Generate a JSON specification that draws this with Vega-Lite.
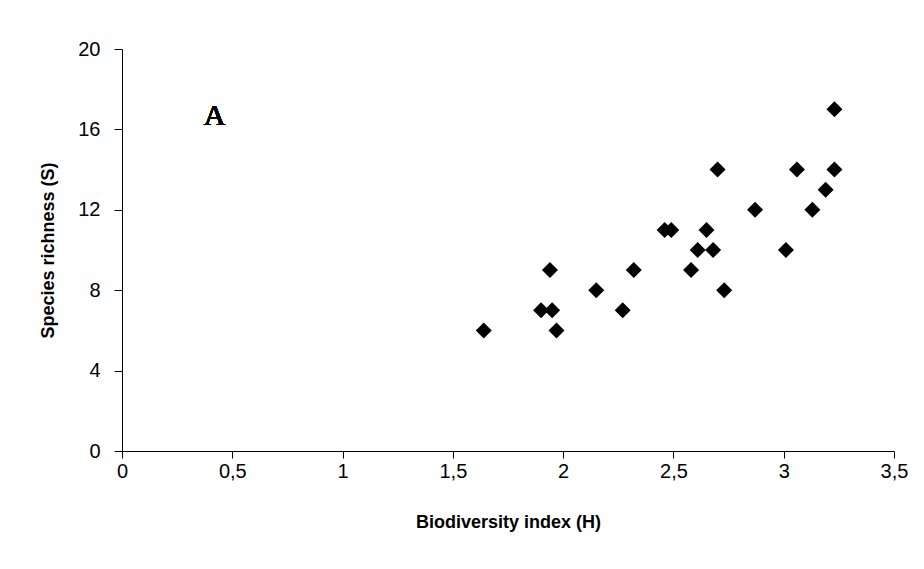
{
  "$schema": "https://vega.github.io/schema/vega-lite/v6.json",
  "autosize": "none",
  "width": 772,
  "height": 402,
  "padding": {"left": 122, "top": 49, "right": 30, "bottom": 118},
  "background": "white",
  "config": {
    "view": {"stroke": null},
    "axis": {
      "labelFont": "Liberation Sans",
      "titleFont": "Liberation Sans",
      "labelColor": "black",
      "titleColor": "black",
      "domainColor": "black",
      "tickColor": "black",
      "grid": false
    }
  },
  "data": {
    "values": [
      {"H": 1.64, "S": 6},
      {"H": 1.90, "S": 7},
      {"H": 1.95, "S": 7},
      {"H": 1.94, "S": 9},
      {"H": 1.97, "S": 6},
      {"H": 2.15, "S": 8},
      {"H": 2.27, "S": 7},
      {"H": 2.32, "S": 9},
      {"H": 2.46, "S": 11},
      {"H": 2.49, "S": 11},
      {"H": 2.58, "S": 9},
      {"H": 2.61, "S": 10},
      {"H": 2.65, "S": 11},
      {"H": 2.68, "S": 10},
      {"H": 2.70, "S": 14},
      {"H": 2.73, "S": 8},
      {"H": 2.87, "S": 12},
      {"H": 3.01, "S": 10},
      {"H": 3.06, "S": 14},
      {"H": 3.13, "S": 12},
      {"H": 3.19, "S": 13},
      {"H": 3.23, "S": 14},
      {"H": 3.23, "S": 17}
    ]
  },
  "layer": [
    {
      "mark": {"type": "point", "shape": "diamond", "filled": true, "size": 256, "color": "black", "opacity": 1},
      "encoding": {
        "x": {
          "field": "H", "type": "quantitative",
          "scale": {"domain": [0, 3.5], "nice": false, "zero": true},
          "axis": {
            "title": "Biodiversity index (H)",
            "values": [0, 0.5, 1, 1.5, 2, 2.5, 3, 3.5],
            "labelExpr": "replace(format(datum.value, '~g'), '.', ',')",
            "labelFontSize": 20,
            "titleFontSize": 18,
            "titleFontWeight": "bold",
            "tickSize": 7,
            "labelPadding": 3,
            "titlePadding": 32,
            "labelFlush": false
          }
        },
        "y": {
          "field": "S", "type": "quantitative",
          "scale": {"domain": [0, 20], "nice": false},
          "axis": {
            "title": "Species richness (S)",
            "values": [0, 4, 8, 12, 16, 20],
            "labelFontSize": 20,
            "titleFontSize": 18,
            "titleFontWeight": "bold",
            "tickSize": 8,
            "labelPadding": 14,
            "titlePadding": 20,
            "labelFlush": false
          }
        }
      }
    },
    {
      "mark": {"type": "text", "text": "A", "font": "Liberation Serif", "fontSize": 30, "color": "black", "baseline": "alphabetic", "align": "center"},
      "encoding": {
        "x": {"datum": 0.42, "type": "quantitative"},
        "y": {"datum": 16.2, "type": "quantitative"}
      }
    }
  ]
}
